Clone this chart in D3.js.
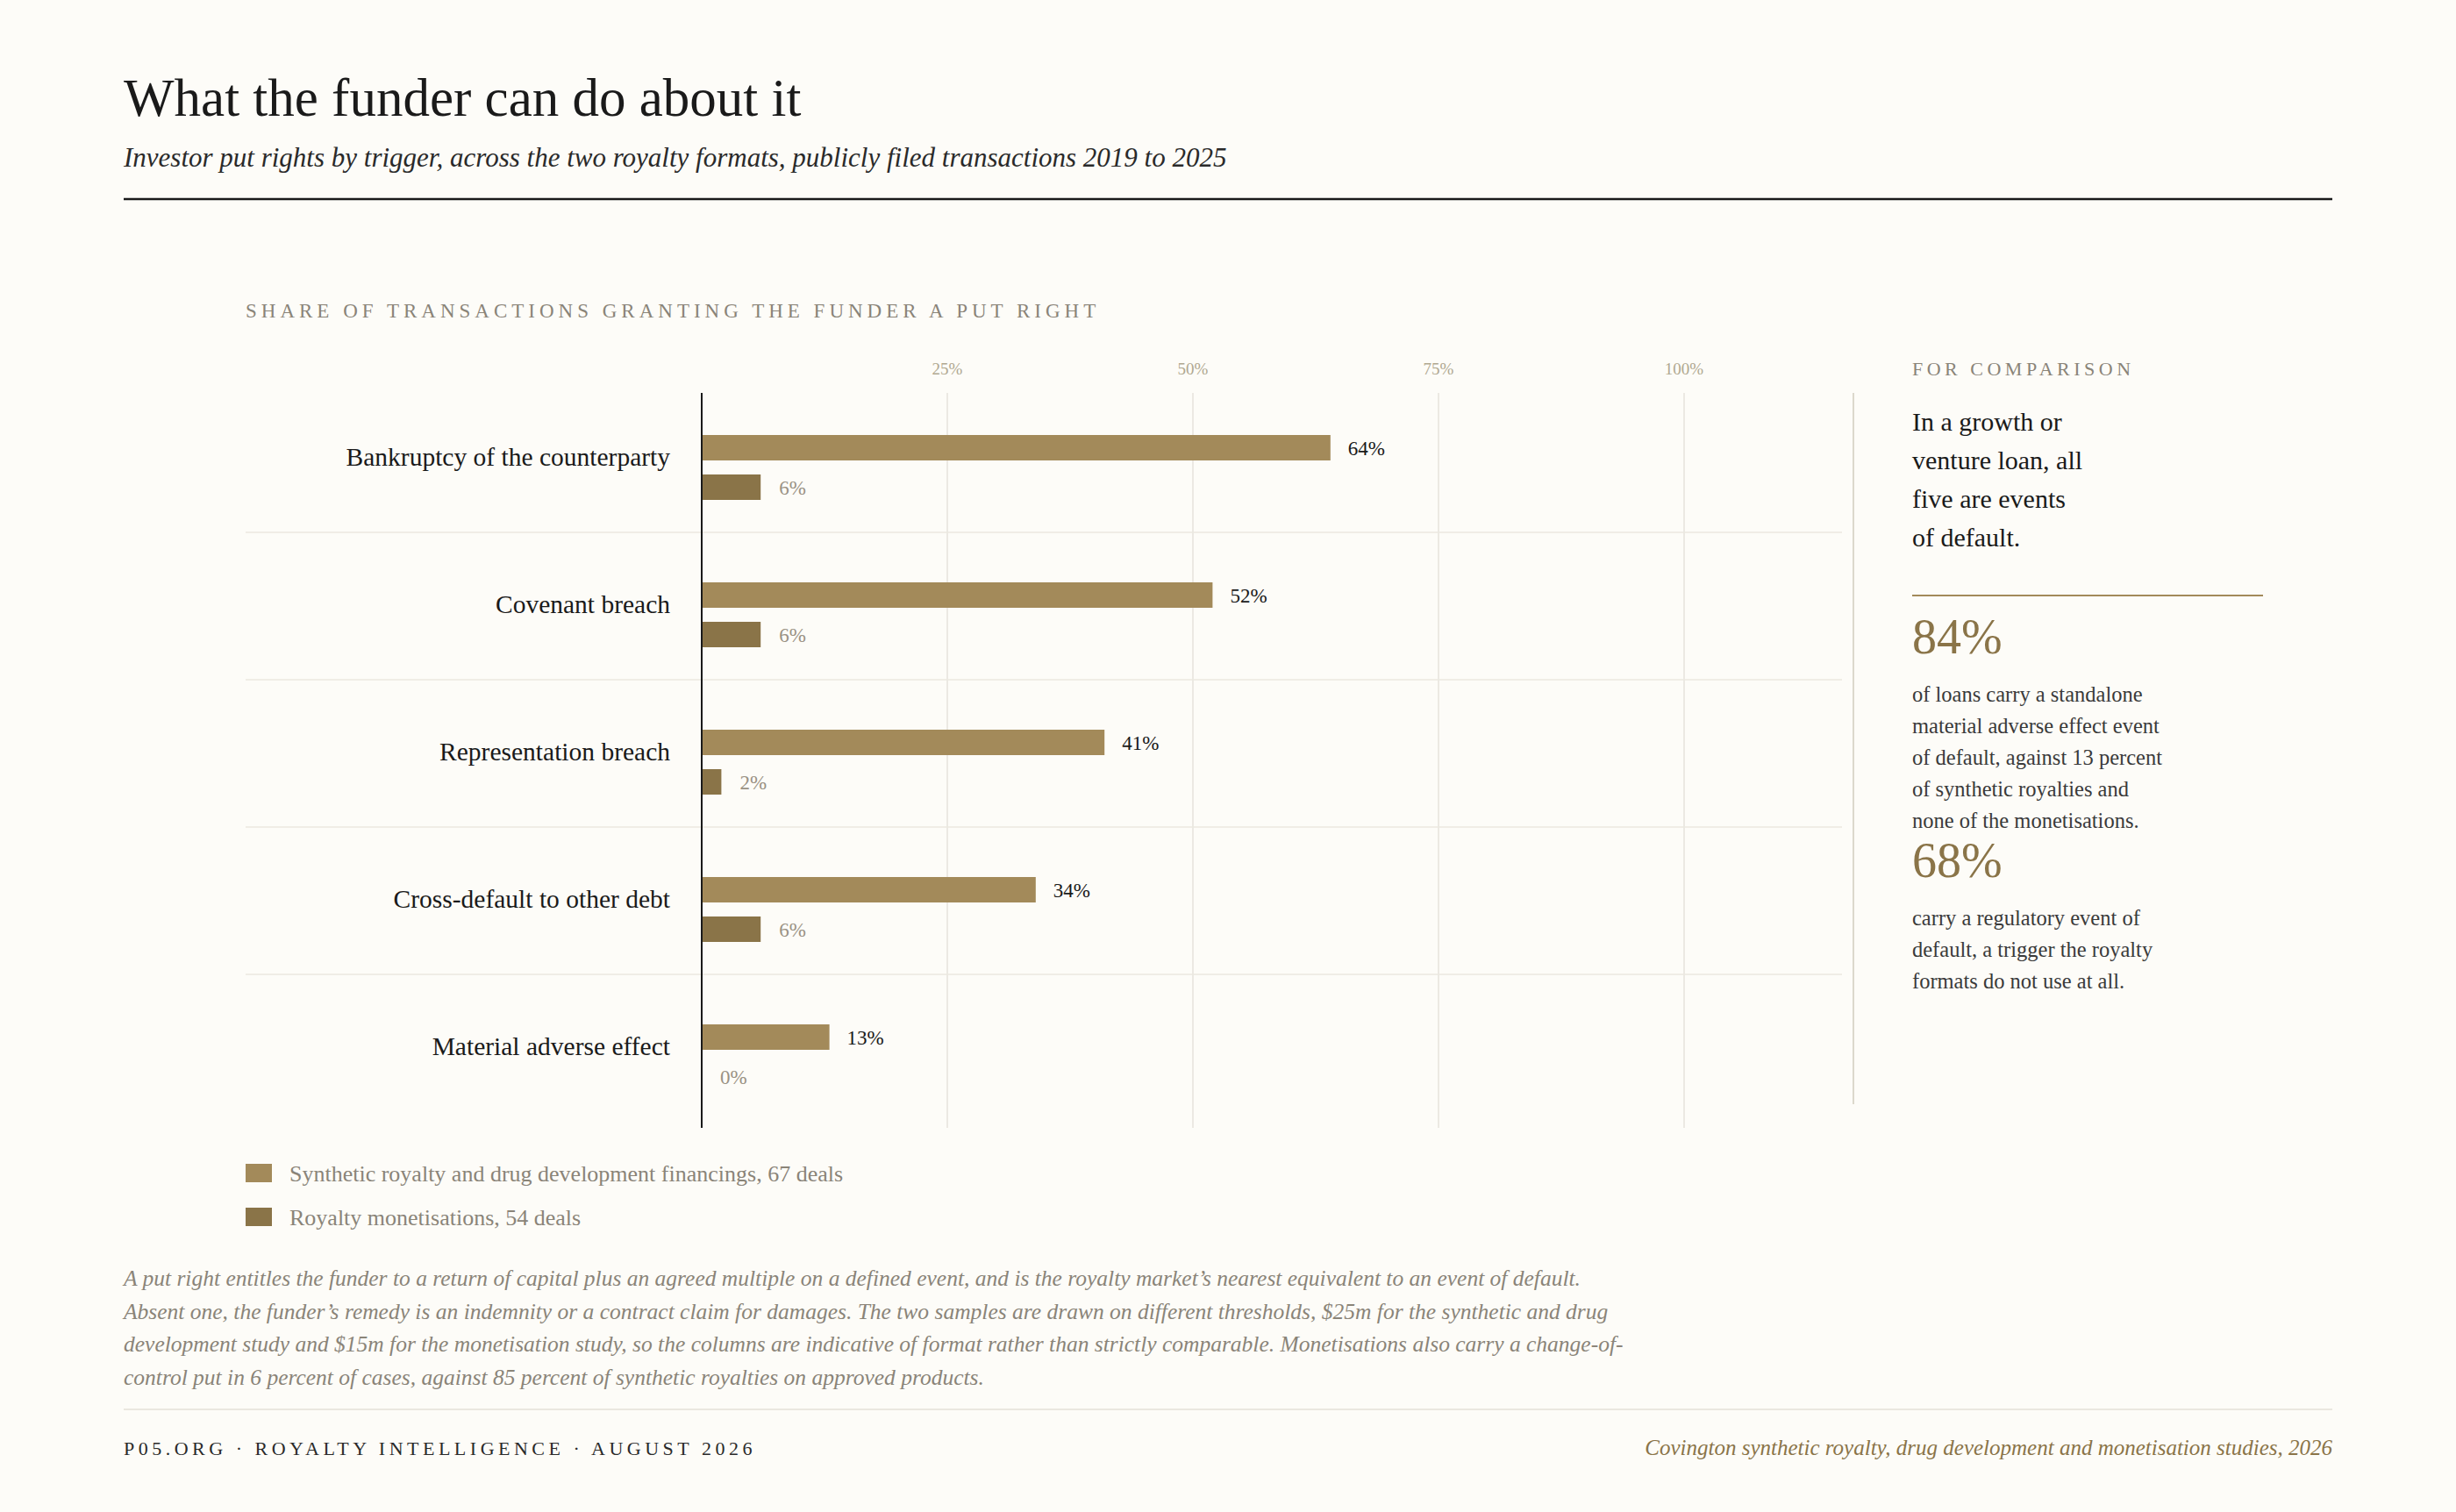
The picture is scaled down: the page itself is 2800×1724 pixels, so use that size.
<!DOCTYPE html>
<html><head><meta charset="utf-8">
<script src="https://cdn.jsdelivr.net/npm/d3@7"></script>
<style>
body{margin:0;background:#fdfcf8;}
svg text{font-family:"Liberation Serif","DejaVu Serif",serif;}
</style></head><body>
<script>
const triggers = ['Bankruptcy of the counterparty','Covenant breach','Representation breach','Cross-default to other debt','Material adverse effect']
const synthetic = [64, 52, 41, 34, 13]
const monetisation = [6, 6, 2, 6, 0]
const ticks = [25, 50, 75, 100]
const legendLabels = ['Synthetic royalty and drug development financings, 67 deals','Royalty monetisations, 54 deals']
const colors = ['#a38a5a', '#8a7448']

const width = 2800, height = 1724
const svg = d3.select('body').append('svg').attr('width', width).attr('height', height)
svg.append('rect').attr('width', width).attr('height', height).attr('fill', '#fdfcf8')

svg.append('text').text('What the funder can do about it').attr('x', 141).attr('y', 132).attr('font-size', 61).attr('fill', '#1a1a1a')
svg.append('text').text('Investor put rights by trigger, across the two royalty formats, publicly filed transactions 2019 to 2025').attr('x', 141).attr('y', 190).attr('font-size', 31).attr('font-style', 'italic').attr('fill', '#2a2a2a')
svg.append('line').attr('x1', 141).attr('x2', 2659).attr('y1', 227).attr('y2', 227).attr('stroke', '#1a1a1a').attr('stroke-width', 2.5)

svg.append('text').text('SHARE OF TRANSACTIONS GRANTING THE FUNDER A PUT RIGHT').attr('x', 280).attr('y', 362).attr('font-size', 23).attr('letter-spacing', 5).attr('fill', '#8a8478')

const x = d3.scaleLinear().domain([0, 100]).range([800, 1920])
const y = d3.scaleBand().domain(triggers).range([439, 1279])
const plotTop = 448, plotBottom = 1286

svg.selectAll('.grid').data(ticks).enter().append('line')
  .attr('x1', d => x(d)).attr('x2', d => x(d)).attr('y1', plotTop).attr('y2', plotBottom)
  .attr('stroke', '#e6e3dc').attr('stroke-width', 1.5)
svg.selectAll('.tick').data(ticks).enter().append('text')
  .attr('x', d => x(d)).attr('y', 427).attr('text-anchor', 'middle').attr('font-size', 19).attr('fill', '#b0a890')
  .text(d => d + '%')

svg.selectAll('.sep').data(triggers.slice(1)).enter().append('line')
  .attr('x1', 280).attr('x2', 2100).attr('y1', d => y(d)).attr('y2', d => y(d))
  .attr('stroke', '#ebe8e1').attr('stroke-width', 1.5)

const bh = 29
triggers.forEach((t, i) => {
  const y0 = y(t) + 57
  svg.append('rect').attr('x', x(0)).attr('y', y0).attr('width', x(synthetic[i]) - x(0)).attr('height', bh).attr('fill', colors[0])
  svg.append('rect').attr('x', x(0)).attr('y', y0 + 45).attr('width', x(monetisation[i]) - x(0)).attr('height', bh).attr('fill', colors[1])
  svg.append('text').text(synthetic[i] + '%').attr('x', x(synthetic[i]) + 20).attr('y', y0 + 23).attr('font-size', 23).attr('fill', '#1a1a1a')
  svg.append('text').text(monetisation[i] + '%').attr('x', x(monetisation[i]) + 21).attr('y', y0 + 68).attr('font-size', 23).attr('fill', '#9a9284')
  svg.append('text').text(t).attr('x', 764).attr('y', y0 + 35).attr('text-anchor', 'end').attr('font-size', 29.5).attr('fill', '#1a1a1a')
})
svg.append('line').attr('x1', 800).attr('x2', 800).attr('y1', plotTop).attr('y2', plotBottom).attr('stroke', '#1a1a1a').attr('stroke-width', 2)

// right panel
svg.append('line').attr('x1', 2113).attr('x2', 2113).attr('y1', 448).attr('y2', 1259).attr('stroke', '#dcd8cc').attr('stroke-width', 2)
svg.append('text').text('FOR COMPARISON').attr('x', 2180).attr('y', 428).attr('font-size', 22).attr('letter-spacing', 4.5).attr('fill', '#8a8478')
const lead = ['In a growth or', 'venture loan, all', 'five are events', 'of default.']
lead.forEach((l, i) => svg.append('text').text(l).attr('x', 2180).attr('y', 491 + i * 44).attr('font-size', 30).attr('fill', '#1a1a1a'))
svg.append('line').attr('x1', 2180).attr('x2', 2580).attr('y1', 679).attr('y2', 679).attr('stroke', '#a38a5a').attr('stroke-width', 2)
const stats = [
  {v: '84%', y: 745, lines: ['of loans carry a standalone', 'material adverse effect event', 'of default, against 13 percent', 'of synthetic royalties and', 'none of the monetisations.']},
  {v: '68%', y: 1000, lines: ['carry a regulatory event of', 'default, a trigger the royalty', 'formats do not use at all.']}
]
stats.forEach(s => {
  svg.append('text').text(s.v).attr('x', 2180).attr('y', s.y).attr('font-size', 56).attr('fill', '#8a7448')
  s.lines.forEach((l, i) => svg.append('text').text(l).attr('x', 2180).attr('y', s.y + 55 + i * 36).attr('font-size', 24.5).attr('fill', '#3a3a3a'))
})

// legend
legendLabels.forEach((l, i) => {
  svg.append('rect').attr('x', 280).attr('y', 1327 + i * 50).attr('width', 30).attr('height', 21).attr('fill', colors[i])
  svg.append('text').text(l).attr('x', 330).attr('y', 1347 + i * 50).attr('font-size', 26).attr('fill', '#8a8478')
})

const note = [
  'A put right entitles the funder to a return of capital plus an agreed multiple on a defined event, and is the royalty market\u2019s nearest equivalent to an event of default.',
  'Absent one, the funder\u2019s remedy is an indemnity or a contract claim for damages. The two samples are drawn on different thresholds, $25m for the synthetic and drug',
  'development study and $15m for the monetisation study, so the columns are indicative of format rather than strictly comparable. Monetisations also carry a change-of-',
  'control put in 6 percent of cases, against 85 percent of synthetic royalties on approved products.'
]
note.forEach((l, i) => svg.append('text').text(l).attr('x', 141).attr('y', 1466 + i * 37.5).attr('font-size', 25.5).attr('font-style', 'italic').attr('fill', '#8a8478'))

svg.append('line').attr('x1', 141).attr('x2', 2659).attr('y1', 1607).attr('y2', 1607).attr('stroke', '#e3e0d8').attr('stroke-width', 1.5)
svg.append('text').text('P05.ORG \u00b7 ROYALTY INTELLIGENCE \u00b7 AUGUST 2026').attr('x', 141).attr('y', 1659).attr('font-size', 22).attr('letter-spacing', 4.5).attr('fill', '#2a2a2a')
svg.append('text').text('Covington synthetic royalty, drug development and monetisation studies, 2026').attr('x', 2659).attr('y', 1659).attr('text-anchor', 'end').attr('font-size', 25).attr('font-style', 'italic').attr('fill', '#8a7448')
</script>
</body></html>
